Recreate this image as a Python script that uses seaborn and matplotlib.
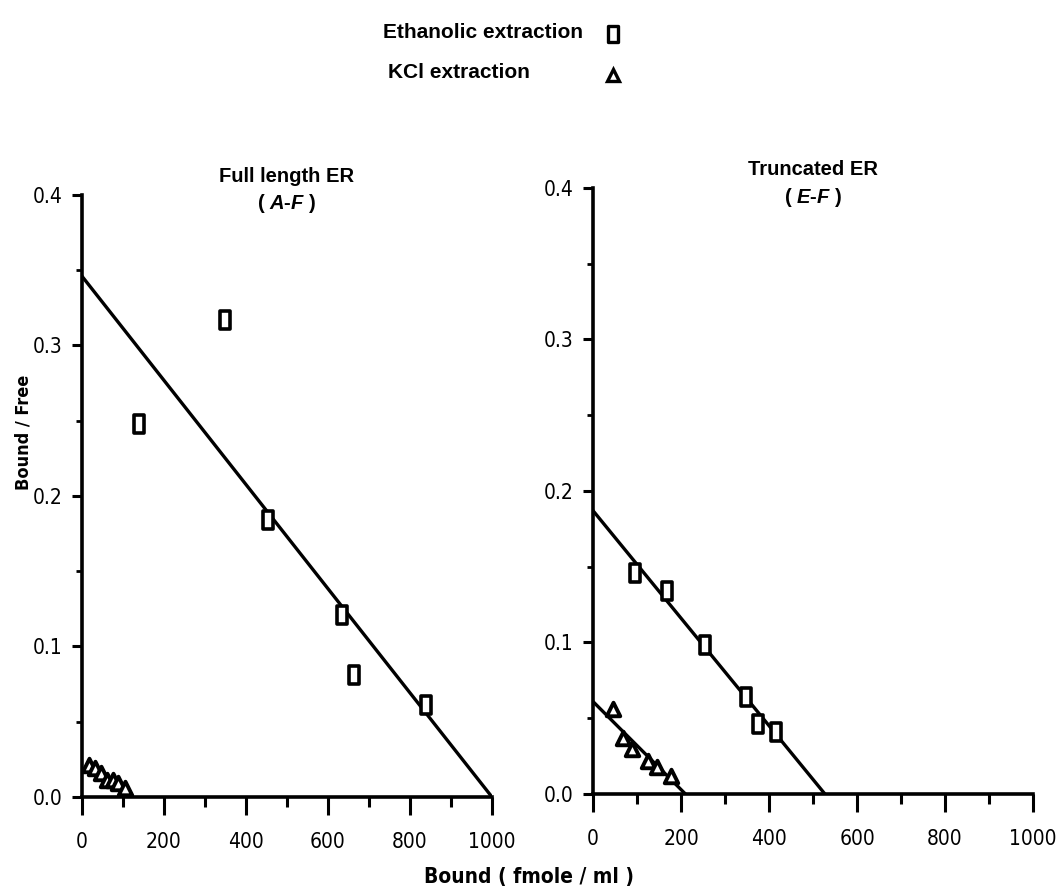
import matplotlib
matplotlib.use("Agg")
import matplotlib.pyplot as plt
import numpy as np
import pandas as pd
import seaborn as sns
from matplotlib.lines import Line2D
from matplotlib.path import Path
from matplotlib.ticker import FixedLocator, FixedFormatter

# ---- Scatchard data: Bound (fmole/ml) vs Bound/Free ----
# Full length ER (A-F)
full_eth_bound = [140, 349, 454, 635, 663, 840]
full_eth_ratio = [0.248, 0.317, 0.184, 0.121, 0.081, 0.061]
full_kcl_bound = [18, 32, 46, 60, 75, 88, 106]
full_kcl_ratio = [0.021, 0.019, 0.016, 0.011, 0.011, 0.009, 0.006]
full_eth_fit = [0.346, 1000]      # y-intercept, x-intercept

# Truncated ER (E-F)
trunc_eth_bound = [95, 168, 254, 347, 374, 416]
trunc_eth_ratio = [0.146, 0.134, 0.098, 0.064, 0.046, 0.041]
trunc_kcl_bound = [46, 69, 88, 126, 145, 178]
trunc_kcl_ratio = [0.056, 0.037, 0.030, 0.022, 0.018, 0.012]
trunc_eth_fit = [0.187, 527]
trunc_kcl_fit = [0.061, 210]

x_ticks = [0, 200, 400, 600, 800, 1000]
x_tick_labels = ["0", "200", "400", "600", "800", "1000"]
y_ticks = [0.0, 0.1, 0.2, 0.3, 0.4]
y_tick_labels = ["0.0", "0.1", "0.2", "0.3", "0.4"]

sns.set_style("ticks")
plt.rcParams["font.family"] = ["Liberation Sans", "DejaVu Sans"]
plt.rcParams["text.color"] = "black"
plt.rcParams["xtick.color"] = "black"
plt.rcParams["ytick.color"] = "black"
plt.rcParams["mathtext.fontset"] = "custom"
plt.rcParams["mathtext.rm"] = "Liberation Sans:bold"
plt.rcParams["mathtext.it"] = "Liberation Sans:bold:italic"

NARROW = ["DejaVu Sans"]

# tall open rectangle used for the ethanolic points
rect = Path([(-0.3, -0.5), (0.3, -0.5), (0.3, 0.5), (-0.3, 0.5), (-0.3, -0.5)],
            [Path.MOVETO, Path.LINETO, Path.LINETO, Path.LINETO, Path.CLOSEPOLY])

fig = plt.figure(figsize=(10.58, 8.89), dpi=100)
fig.patch.set_facecolor("white")
ax_full = fig.add_axes([0.0775, 0.1035, 0.3875, 0.6772])
ax_trunc = fig.add_axes([0.5605, 0.1069, 0.4159, 0.6817])


def fit_line(ax, fit):
    y0, x0 = fit
    sns.lineplot(x=[0, x0], y=[y0, 0], ax=ax, color="black", lw=2.4,
                 legend=False, zorder=2)


def draw_panel(ax, eth_x, eth_y, kcl_x, kcl_y, fits, title, sub):
    for f in fits:
        fit_line(ax, f)
    sns.scatterplot(x=eth_x, y=eth_y, ax=ax, marker=rect, s=150,
                    facecolor="white", edgecolor="black", linewidth=2.6,
                    zorder=3, legend=False)
    sns.scatterplot(x=kcl_x, y=kcl_y, ax=ax, marker="^", s=95,
                    facecolor="white", edgecolor="black", linewidth=2.8,
                    zorder=3, legend=False)
    ax.set_xlim(0, 1000)
    ax.set_ylim(0, 0.4)
    ax.xaxis.set_major_locator(FixedLocator(x_ticks))
    ax.xaxis.set_major_formatter(FixedFormatter(x_tick_labels))
    ax.xaxis.set_minor_locator(FixedLocator([100, 300, 500, 700, 900]))
    ax.yaxis.set_major_locator(FixedLocator(y_ticks))
    ax.yaxis.set_major_formatter(FixedFormatter(y_tick_labels))
    ax.yaxis.set_minor_locator(FixedLocator([0.05, 0.15, 0.25, 0.35]))
    ax.tick_params(axis="x", which="major", length=13, width=2.2, pad=12,
                   labelsize=15, direction="out")
    ax.tick_params(axis="x", which="minor", length=7, width=2.2, direction="out")
    ax.tick_params(axis="y", which="major", length=7, width=2.2, pad=7,
                   labelsize=15, direction="out")
    ax.tick_params(axis="y", which="minor", length=4, width=2.0, direction="out")
    for lab in ax.get_xticklabels() + ax.get_yticklabels():
        lab.set_family(NARROW)
        lab.set_stretch("condensed")
    sns.despine(ax=ax)
    for side in ("left", "bottom"):
        ax.spines[side].set_linewidth(2.6)
        ax.spines[side].set_color("black")
    ax.set_xlabel("")
    ax.set_ylabel("")
    ax.set_facecolor("white")
    ax.text(0.5, 1.03, title, transform=ax.transAxes, ha="center", va="center",
            fontsize=14.5, fontweight="bold")
    ax.text(0.5, 0.985, sub, transform=ax.transAxes, ha="center", va="center",
            fontsize=14.5, fontweight="bold")


draw_panel(ax_full, full_eth_bound, full_eth_ratio, full_kcl_bound,
           full_kcl_ratio, [full_eth_fit], "Full length ER",
           r"( $\mathit{A}$-$\mathit{F}$ )")
draw_panel(ax_trunc, trunc_eth_bound, trunc_eth_ratio, trunc_kcl_bound,
           trunc_kcl_ratio, [trunc_eth_fit, trunc_kcl_fit], "Truncated ER",
           r"( $\mathit{E}$-$\mathit{F}$ )")

# shared axis labels
fig.text(0.50, 1 - 877 / 889, "Bound ( fmole / ml )", ha="center", va="center",
         fontsize=15, fontweight="bold", family=NARROW, stretch="condensed")
fig.text(0.022, 1 - 432 / 889, "Bound / Free", ha="center", va="center",
         rotation=90, fontsize=13, fontweight="bold", family=NARROW,
         stretch="condensed")

# key at the top
fig.text(383 / 1058, 1 - 33 / 889, "Ethanolic extraction", ha="left",
         va="center", fontsize=15, fontweight="bold")
fig.text(388 / 1058, 1 - 73 / 889, "KCl extraction", ha="left",
         va="center", fontsize=15, fontweight="bold")
fig.add_artist(Line2D([613 / 1058], [1 - 34 / 889], transform=fig.transFigure,
                      marker=rect, markersize=11, mfc="white", mec="black",
                      mew=2.4, linestyle="none"))
fig.add_artist(Line2D([613 / 1058], [1 - 75 / 889], transform=fig.transFigure,
                      marker="^", markersize=8, mfc="white", mec="black",
                      mew=2.4, linestyle="none"))

fig.savefig("out.png", dpi=100, facecolor="white")
